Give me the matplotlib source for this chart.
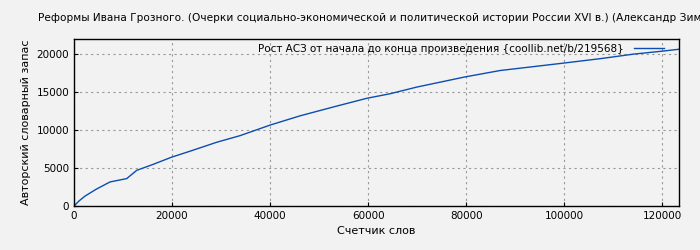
import matplotlib.pyplot as plt

# word counter vs. author's vocabulary
words = [0, 1000, 2245, 4500, 7350, 10750, 12800, 16000, 19940, 23670, 29120, 33880, 40000, 46120,
         52920, 59730, 64490, 69940, 79800, 86940, 99530, 107350, 114150, 119590, 123400]
vocab = [0, 650, 1305, 2200, 3170, 3610, 4700, 5450, 6440, 7220, 8400, 9270, 10660, 11880,
         13050, 14190, 14790, 15670, 17010, 17850, 18800, 19410, 20010, 20370, 20650]
xticks = [0, 20000, 40000, 60000, 80000, 100000, 120000]
yticks = [0, 5000, 10000, 15000, 20000]

title = ("Реформы Ивана Грозного. (Очерки социально-экономической и политической "
         "истории России XVI в.) (Александр Зимин)")
bg = "#f2f2f2"

plt.rcParams['font.family'] = ['DejaVu Sans']
fig = plt.figure(figsize=(7, 2.5), dpi=100, facecolor=bg)
ax = fig.add_axes([74/700, 44/250, 605/700, 167/250], facecolor=bg)

ax.plot(words, vocab, color="#0b4db0", lw=1,
        label="Рост АСЗ от начала до конца произведения {coollib.net/b/219568}")

ax.set_xlim(0, words[-1])
ax.set_ylim(0, 22000)
ax.set_xticks(xticks)
ax.set_yticks(yticks)
ax.tick_params(labelsize=7.5, length=3, direction="in")
ax.grid(True, color="#999999", linestyle=(0, (2, 3)), lw=0.8)
for s in ax.spines.values():
    s.set_linewidth(1)

ax.set_xlabel("Счетчик слов", fontsize=8)
ax.set_ylabel("Авторский словарный запас", fontsize=8)
fig.text(38/700, 1 - 18/250, title, fontsize=7.55, ha="left", va="center")

ax.legend(loc="upper right", bbox_to_anchor=(0.982, 0.995), frameon=False,
          markerfirst=False, fontsize=7.5, handlelength=2.9, borderaxespad=0,
          handletextpad=1.0)

fig.savefig("out.png", dpi=100, facecolor=bg)
